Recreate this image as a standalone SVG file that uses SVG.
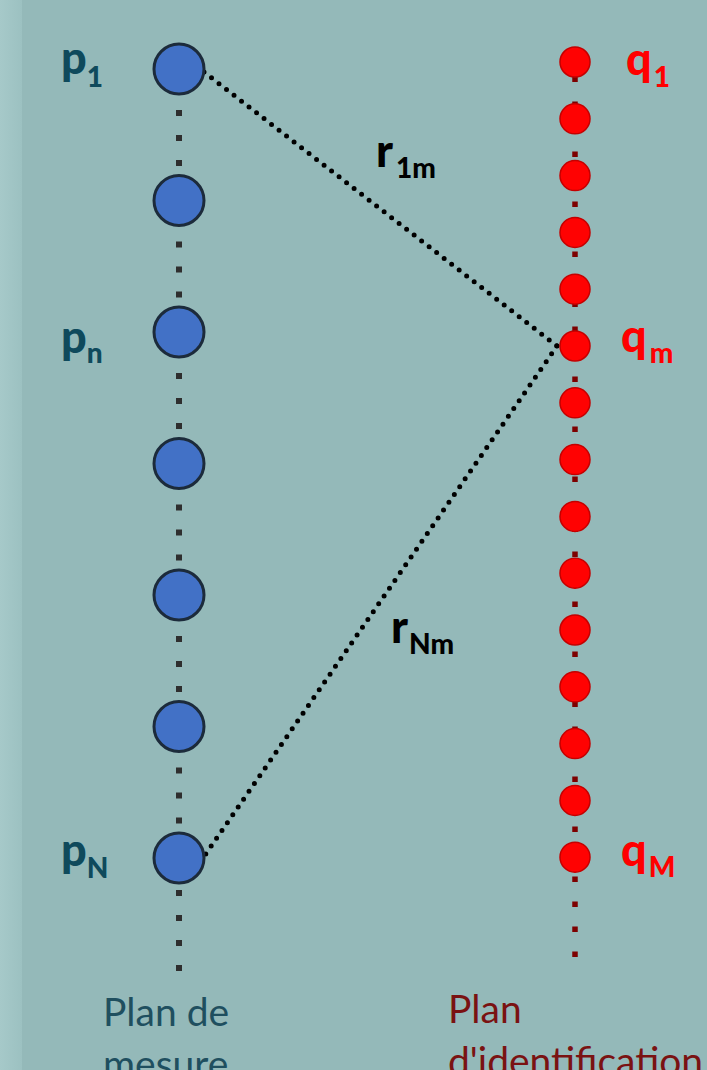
<svg xmlns="http://www.w3.org/2000/svg" width="707" height="1070" viewBox="0 0 707 1070">
  <defs>
    <linearGradient id="strip" x1="0" y1="0" x2="1" y2="0">
      <stop offset="0" stop-color="#a6c9c9"/>
      <stop offset="1" stop-color="#9cc1c1"/>
    </linearGradient>
  </defs>
  <style>
    .bg { fill: #94b9b9; }
    .pc { fill: #4271c6; stroke: #1c2b3b; stroke-width: 3; }
    .qc { fill: #ff0202; stroke: #c40000; stroke-width: 1.5; }
    .bdots { stroke: #2e2e2e; stroke-width: 6; stroke-dasharray: 6 19; fill: none; }
    .rdots { stroke: #7d0000; stroke-width: 5.5; stroke-dasharray: 5.5 19.5; fill: none; }
    .ray { stroke: #000; stroke-width: 5; stroke-linecap: round; stroke-dasharray: 0 9.5; fill: none; }
    .lbl { font-family: Lato, "Liberation Sans", sans-serif; font-weight: 900; }
    .main { font-size: 45px; }
    .sub { font-size: 28px; }
    .pl { fill: #0f4a5c; }
    .ql { fill: #ff0000; }
    .rl { fill: #000; }
    .cap { font-family: Lato, "Liberation Sans", sans-serif; font-size: 39px; }
    .capb { fill: #1f4f5f; }
    .capr { fill: #7a1212; }
  </style>
  <rect class="bg" x="0" y="0" width="707" height="1070"/>
  <rect x="0" y="0" width="22" height="1070" fill="url(#strip)"/>

  <g id="connectors">
    <line class="bdots" x1="179" y1="110" x2="179" y2="168"/>
    <line class="bdots" x1="179" y1="241.5" x2="179" y2="299.5"/>
    <line class="bdots" x1="179" y1="373" x2="179" y2="431"/>
    <line class="bdots" x1="179" y1="504.5" x2="179" y2="562.5"/>
    <line class="bdots" x1="179" y1="636" x2="179" y2="694"/>
    <line class="bdots" x1="179" y1="767.5" x2="179" y2="825.5"/>
    <line class="bdots" x1="179" y1="890" x2="179" y2="972"/>
    <line class="rdots" x1="575" y1="76.5" x2="575" y2="957"/>
    <line class="ray" x1="204" y1="72" x2="557" y2="346"/>
    <line class="ray" x1="557" y1="346" x2="205" y2="855"/>
  </g>

  <g id="p1"><circle class="pc" cx="179" cy="69" r="25"/></g>
  <g id="p2"><circle class="pc" cx="179" cy="200.5" r="25"/></g>
  <g id="pn"><circle class="pc" cx="179" cy="332" r="25"/></g>
  <g id="p4"><circle class="pc" cx="179" cy="463.5" r="25"/></g>
  <g id="p5"><circle class="pc" cx="179" cy="595" r="25"/></g>
  <g id="p6"><circle class="pc" cx="179" cy="726.5" r="25"/></g>
  <g id="pN"><circle class="pc" cx="179" cy="858" r="25"/></g>

  <g id="q1"><circle class="qc" cx="575" cy="62" r="15"/></g>
  <g id="q2"><circle class="qc" cx="575" cy="118.8" r="15"/></g>
  <g id="q3"><circle class="qc" cx="575" cy="175.6" r="15"/></g>
  <g id="q4"><circle class="qc" cx="575" cy="232.4" r="15"/></g>
  <g id="q5"><circle class="qc" cx="575" cy="289.2" r="15"/></g>
  <g id="qm"><circle class="qc" cx="575" cy="346" r="15"/></g>
  <g id="q7"><circle class="qc" cx="575" cy="402.8" r="15"/></g>
  <g id="q8"><circle class="qc" cx="575" cy="459.6" r="15"/></g>
  <g id="q9"><circle class="qc" cx="575" cy="516.4" r="15"/></g>
  <g id="q10"><circle class="qc" cx="575" cy="573.2" r="15"/></g>
  <g id="q11"><circle class="qc" cx="575" cy="630" r="15"/></g>
  <g id="q12"><circle class="qc" cx="575" cy="686.8" r="15"/></g>
  <g id="q13"><circle class="qc" cx="575" cy="743.6" r="15"/></g>
  <g id="q14"><circle class="qc" cx="575" cy="800.4" r="15"/></g>
  <g id="qM"><circle class="qc" cx="575" cy="857.2" r="15"/></g>

  <g id="labels">
    <text class="lbl pl" x="61" y="74"><tspan class="main">p</tspan><tspan class="sub" dy="13">1</tspan></text>
    <text class="lbl pl" x="61" y="353"><tspan class="main">p</tspan><tspan class="sub" dy="10">n</tspan></text>
    <text class="lbl pl" x="61" y="866"><tspan class="main">p</tspan><tspan class="sub" dy="12">N</tspan></text>
    <text class="lbl ql" x="626" y="75"><tspan class="main">q</tspan><tspan class="sub" dy="12" dx="2">1</tspan></text>
    <text class="lbl ql" x="621" y="352"><tspan class="main">q</tspan><tspan class="sub" dy="11" dx="3">m</tspan></text>
    <text class="lbl ql" x="621" y="866"><tspan class="main">q</tspan><tspan class="sub" dy="11" dx="2">M</tspan></text>
    <text class="lbl rl" x="376" y="167"><tspan class="main">r</tspan><tspan class="sub" dy="11" dx="3">1m</tspan></text>
    <text class="lbl rl" x="391" y="643"><tspan class="main">r</tspan><tspan class="sub" dy="11" dx="1">Nm</tspan></text>
  </g>

  <g id="captions">
    <text class="cap capb" x="103" y="1026">Plan de</text>
    <text class="cap capb" x="103" y="1078">mesure</text>
    <text class="cap capr" x="448" y="1023">Plan</text>
    <text class="cap capr" x="448" y="1075">d'identification</text>
  </g>
</svg>
